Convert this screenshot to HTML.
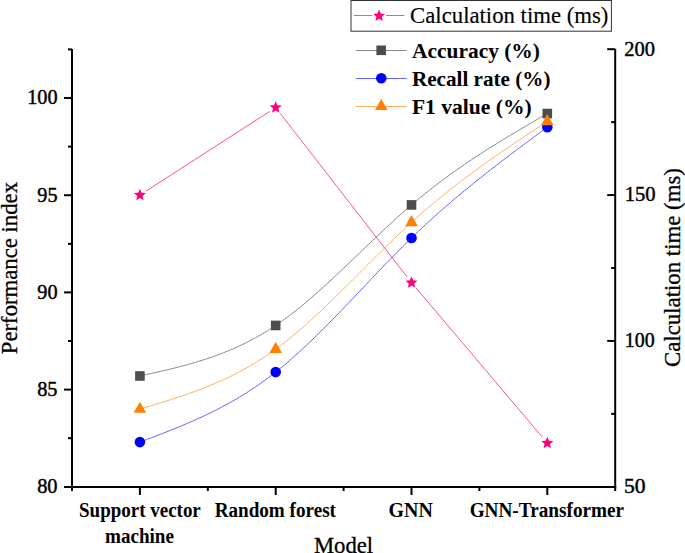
<!DOCTYPE html>
<html><head><meta charset="utf-8"><style>
html,body{margin:0;padding:0;background:#fff;overflow:hidden;}
svg{display:block;}
</style></head><body>
<svg width="685" height="553" viewBox="0 0 685 553">
<rect width="685" height="553" fill="#fff"/>
<g stroke="#000" stroke-width="2" fill="none">
<line x1="72.0" y1="49.0" x2="72.0" y2="491"/>
<line x1="615.2" y1="49.0" x2="615.2" y2="491"/>
<line x1="64" y1="487" x2="616.2" y2="487"/>
<line x1="64" y1="487.00" x2="72.0" y2="487.00"/>
<line x1="64" y1="389.60" x2="72.0" y2="389.60"/>
<line x1="64" y1="292.40" x2="72.0" y2="292.40"/>
<line x1="64" y1="195.20" x2="72.0" y2="195.20"/>
<line x1="64" y1="98.00" x2="72.0" y2="98.00"/>
<line x1="68" y1="438.20" x2="72.0" y2="438.20"/>
<line x1="68" y1="341.00" x2="72.0" y2="341.00"/>
<line x1="68" y1="243.80" x2="72.0" y2="243.80"/>
<line x1="68" y1="146.60" x2="72.0" y2="146.60"/>
<line x1="68" y1="49.40" x2="72.0" y2="49.40"/>
<line x1="607.2" y1="487.00" x2="615.2" y2="487.00"/>
<line x1="607.2" y1="340.93" x2="615.2" y2="340.93"/>
<line x1="607.2" y1="195.07" x2="615.2" y2="195.07"/>
<line x1="607.2" y1="49.20" x2="615.2" y2="49.20"/>
<line x1="611.2" y1="413.87" x2="615.2" y2="413.87"/>
<line x1="611.2" y1="268.00" x2="615.2" y2="268.00"/>
<line x1="611.2" y1="122.13" x2="615.2" y2="122.13"/>
<line x1="139.90" y1="487" x2="139.90" y2="495"/>
<line x1="275.70" y1="487" x2="275.70" y2="495"/>
<line x1="411.50" y1="487" x2="411.50" y2="495"/>
<line x1="547.30" y1="487" x2="547.30" y2="495"/>
<line x1="207.80" y1="487" x2="207.80" y2="491"/>
<line x1="343.60" y1="487" x2="343.60" y2="491"/>
<line x1="479.40" y1="487" x2="479.40" y2="491"/>
</g>
<path d="M139.90,375.99 L142.16,375.49 L144.43,374.99 L146.69,374.49 L148.95,373.99 L151.22,373.49 L153.48,372.98 L155.74,372.47 L158.01,371.95 L160.27,371.43 L162.53,370.91 L164.80,370.38 L167.06,369.84 L169.32,369.30 L171.59,368.74 L173.85,368.19 L176.11,367.62 L178.38,367.04 L180.64,366.45 L182.90,365.86 L185.17,365.25 L187.43,364.63 L189.69,364.00 L191.96,363.36 L194.22,362.70 L196.48,362.03 L198.75,361.34 L201.01,360.64 L203.27,359.93 L205.54,359.20 L207.80,358.45 L210.06,357.68 L212.33,356.90 L214.59,356.10 L216.85,355.28 L219.12,354.44 L221.38,353.58 L223.64,352.70 L225.91,351.80 L228.17,350.87 L230.43,349.93 L232.70,348.96 L234.96,347.97 L237.22,346.95 L239.49,345.91 L241.75,344.85 L244.01,343.75 L246.28,342.64 L248.54,341.49 L250.80,340.32 L253.07,339.12 L255.33,337.89 L257.59,336.63 L259.86,335.34 L262.12,334.03 L264.38,332.68 L266.65,331.30 L268.91,329.88 L271.17,328.44 L273.44,326.96 L275.70,325.45 L277.96,323.90 L280.23,322.32 L282.49,320.71 L284.75,319.07 L287.02,317.39 L289.28,315.69 L291.54,313.95 L293.81,312.19 L296.07,310.41 L298.33,308.59 L300.60,306.75 L302.86,304.89 L305.12,303.00 L307.39,301.09 L309.65,299.16 L311.91,297.21 L314.18,295.24 L316.44,293.25 L318.70,291.24 L320.97,289.22 L323.23,287.18 L325.49,285.12 L327.76,283.05 L330.02,280.97 L332.28,278.87 L334.55,276.77 L336.81,274.65 L339.07,272.52 L341.34,270.39 L343.60,268.25 L345.86,266.10 L348.13,263.94 L350.39,261.78 L352.65,259.62 L354.92,257.45 L357.18,255.28 L359.44,253.11 L361.71,250.93 L363.97,248.76 L366.23,246.59 L368.50,244.43 L370.76,242.26 L373.02,240.10 L375.29,237.95 L377.55,235.80 L379.81,233.66 L382.08,231.52 L384.34,229.40 L386.60,227.28 L388.87,225.18 L391.13,223.09 L393.39,221.01 L395.66,218.94 L397.92,216.89 L400.18,214.85 L402.45,212.83 L404.71,210.82 L406.97,208.84 L409.24,206.87 L411.50,204.92 L413.80,202.96 L416.10,201.02 L418.41,199.10 L420.71,197.21 L423.01,195.33 L425.31,193.47 L427.61,191.63 L429.91,189.81 L432.22,188.01 L434.52,186.23 L436.82,184.46 L439.12,182.72 L441.42,180.98 L443.72,179.27 L446.03,177.57 L448.33,175.89 L450.63,174.23 L452.93,172.57 L455.23,170.94 L457.53,169.32 L459.84,167.71 L462.14,166.12 L464.44,164.54 L466.74,162.97 L469.04,161.42 L471.34,159.87 L473.65,158.34 L475.95,156.83 L478.25,155.32 L480.55,153.82 L482.85,152.34 L485.15,150.86 L487.46,149.40 L489.76,147.94 L492.06,146.50 L494.36,145.06 L496.66,143.63 L498.96,142.21 L501.27,140.79 L503.57,139.38 L505.87,137.98 L508.17,136.59 L510.47,135.20 L512.77,133.82 L515.08,132.45 L517.38,131.08 L519.68,129.71 L521.98,128.35 L524.28,126.99 L526.58,125.64 L528.89,124.28 L531.19,122.94 L533.49,121.59 L535.79,120.25 L538.09,118.91 L540.39,117.57 L542.70,116.23 L545.00,114.89 L547.30,113.55" stroke="#888888" stroke-width="1" fill="none"/>
<path d="M139.90,442.09 L142.16,441.23 L144.43,440.38 L146.69,439.52 L148.95,438.66 L151.22,437.80 L153.48,436.94 L155.74,436.07 L158.01,435.20 L160.27,434.33 L162.53,433.45 L164.80,432.56 L167.06,431.67 L169.32,430.78 L171.59,429.88 L173.85,428.97 L176.11,428.05 L178.38,427.12 L180.64,426.19 L182.90,425.24 L185.17,424.29 L187.43,423.33 L189.69,422.35 L191.96,421.36 L194.22,420.36 L196.48,419.35 L198.75,418.33 L201.01,417.29 L203.27,416.24 L205.54,415.18 L207.80,414.09 L210.06,413.00 L212.33,411.89 L214.59,410.76 L216.85,409.61 L219.12,408.45 L221.38,407.26 L223.64,406.06 L225.91,404.84 L228.17,403.60 L230.43,402.34 L232.70,401.06 L234.96,399.76 L237.22,398.44 L239.49,397.09 L241.75,395.72 L244.01,394.33 L246.28,392.92 L248.54,391.48 L250.80,390.01 L253.07,388.52 L255.33,387.00 L257.59,385.46 L259.86,383.89 L262.12,382.29 L264.38,380.67 L266.65,379.01 L268.91,377.33 L271.17,375.62 L273.44,373.88 L275.70,372.10 L277.96,370.30 L280.23,368.47 L282.49,366.60 L284.75,364.71 L287.02,362.79 L289.28,360.84 L291.54,358.87 L293.81,356.87 L296.07,354.85 L298.33,352.80 L300.60,350.73 L302.86,348.64 L305.12,346.52 L307.39,344.39 L309.65,342.23 L311.91,340.06 L314.18,337.87 L316.44,335.66 L318.70,333.43 L320.97,331.19 L323.23,328.94 L325.49,326.67 L327.76,324.38 L330.02,322.09 L332.28,319.78 L334.55,317.46 L336.81,315.13 L339.07,312.80 L341.34,310.45 L343.60,308.10 L345.86,305.74 L348.13,303.37 L350.39,301.00 L352.65,298.62 L354.92,296.24 L357.18,293.86 L359.44,291.48 L361.71,289.09 L363.97,286.71 L366.23,284.32 L368.50,281.94 L370.76,279.56 L373.02,277.18 L375.29,274.80 L377.55,272.43 L379.81,270.07 L382.08,267.71 L384.34,265.36 L386.60,263.01 L388.87,260.68 L391.13,258.35 L393.39,256.03 L395.66,253.73 L397.92,251.43 L400.18,249.15 L402.45,246.89 L404.71,244.63 L406.97,242.40 L409.24,240.17 L411.50,237.97 L413.80,235.74 L416.10,233.54 L418.41,231.35 L420.71,229.17 L423.01,227.02 L425.31,224.88 L427.61,222.76 L429.91,220.65 L432.22,218.56 L434.52,216.48 L436.82,214.42 L439.12,212.38 L441.42,210.34 L443.72,208.33 L446.03,206.32 L448.33,204.33 L450.63,202.35 L452.93,200.39 L455.23,198.44 L457.53,196.50 L459.84,194.57 L462.14,192.66 L464.44,190.75 L466.74,188.86 L469.04,186.97 L471.34,185.10 L473.65,183.24 L475.95,181.39 L478.25,179.55 L480.55,177.71 L482.85,175.89 L485.15,174.07 L487.46,172.26 L489.76,170.46 L492.06,168.67 L494.36,166.89 L496.66,165.11 L498.96,163.34 L501.27,161.57 L503.57,159.81 L505.87,158.06 L508.17,156.31 L510.47,154.57 L512.77,152.84 L515.08,151.10 L517.38,149.37 L519.68,147.65 L521.98,145.93 L524.28,144.21 L526.58,142.50 L528.89,140.79 L531.19,139.08 L533.49,137.37 L535.79,135.67 L538.09,133.96 L540.39,132.26 L542.70,130.56 L545.00,128.86 L547.30,127.16" stroke="#6464ff" stroke-width="1" fill="none"/>
<path d="M139.90,409.04 L142.16,408.37 L144.43,407.69 L146.69,407.02 L148.95,406.35 L151.22,405.67 L153.48,404.99 L155.74,404.30 L158.01,403.62 L160.27,402.92 L162.53,402.23 L164.80,401.53 L167.06,400.82 L169.32,400.10 L171.59,399.38 L173.85,398.65 L176.11,397.91 L178.38,397.17 L180.64,396.41 L182.90,395.65 L185.17,394.87 L187.43,394.09 L189.69,393.29 L191.96,392.48 L194.22,391.66 L196.48,390.82 L198.75,389.97 L201.01,389.11 L203.27,388.23 L205.54,387.34 L207.80,386.43 L210.06,385.51 L212.33,384.57 L214.59,383.61 L216.85,382.63 L219.12,381.63 L221.38,380.62 L223.64,379.59 L225.91,378.53 L228.17,377.46 L230.43,376.36 L232.70,375.24 L234.96,374.10 L237.22,372.94 L239.49,371.76 L241.75,370.55 L244.01,369.31 L246.28,368.05 L248.54,366.77 L250.80,365.46 L253.07,364.12 L255.33,362.76 L257.59,361.36 L259.86,359.94 L262.12,358.49 L264.38,357.02 L266.65,355.51 L268.91,353.97 L271.17,352.40 L273.44,350.80 L275.70,349.16 L277.96,347.50 L280.23,345.80 L282.49,344.07 L284.75,342.32 L287.02,340.53 L289.28,338.71 L291.54,336.87 L293.81,335.00 L296.07,333.11 L298.33,331.19 L300.60,329.24 L302.86,327.27 L305.12,325.28 L307.39,323.27 L309.65,321.24 L311.91,319.19 L314.18,317.12 L316.44,315.03 L318.70,312.93 L320.97,310.81 L323.23,308.67 L325.49,306.52 L327.76,304.35 L330.02,302.17 L332.28,299.98 L334.55,297.78 L336.81,295.57 L339.07,293.35 L341.34,291.12 L343.60,288.88 L345.86,286.64 L348.13,284.39 L350.39,282.13 L352.65,279.87 L354.92,277.61 L357.18,275.34 L359.44,273.08 L361.71,270.81 L363.97,268.54 L366.23,266.27 L368.50,264.00 L370.76,261.74 L373.02,259.48 L375.29,257.23 L377.55,254.98 L379.81,252.73 L382.08,250.49 L384.34,248.26 L386.60,246.04 L388.87,243.83 L391.13,241.63 L393.39,239.44 L395.66,237.26 L397.92,235.09 L400.18,232.94 L402.45,230.80 L404.71,228.68 L406.97,226.58 L409.24,224.49 L411.50,222.42 L413.80,220.33 L416.10,218.26 L418.41,216.21 L420.71,214.18 L423.01,212.17 L425.31,210.18 L427.61,208.20 L429.91,206.24 L432.22,204.30 L434.52,202.37 L436.82,200.46 L439.12,198.57 L441.42,196.69 L443.72,194.82 L446.03,192.98 L448.33,191.14 L450.63,189.32 L452.93,187.51 L455.23,185.72 L457.53,183.94 L459.84,182.18 L462.14,180.42 L464.44,178.68 L466.74,176.95 L469.04,175.23 L471.34,173.53 L473.65,171.83 L475.95,170.14 L478.25,168.47 L480.55,166.80 L482.85,165.15 L485.15,163.50 L487.46,161.86 L489.76,160.23 L492.06,158.61 L494.36,157.00 L496.66,155.39 L498.96,153.80 L501.27,152.20 L503.57,150.62 L505.87,149.04 L508.17,147.47 L510.47,145.90 L512.77,144.34 L515.08,142.78 L517.38,141.23 L519.68,139.68 L521.98,138.14 L524.28,136.60 L526.58,135.06 L528.89,133.53 L531.19,132.00 L533.49,130.47 L535.79,128.94 L538.09,127.42 L540.39,125.89 L542.70,124.37 L545.00,122.85 L547.30,121.33" stroke="#ffb066" stroke-width="1" fill="none"/>
<line x1="145.95" y1="191.17" x2="269.65" y2="111.45" stroke="#ff4fa3" stroke-width="1"/>
<line x1="280.11" y1="113.24" x2="407.09" y2="276.90" stroke="#ff4fa3" stroke-width="1"/>
<line x1="416.15" y1="288.08" x2="542.65" y2="437.54" stroke="#ff4fa3" stroke-width="1"/>
<rect x="135.10" y="371.19" width="9.6" height="9.6" fill="#4d4d4d"/>
<rect x="270.90" y="320.65" width="9.6" height="9.6" fill="#4d4d4d"/>
<rect x="406.70" y="200.12" width="9.6" height="9.6" fill="#4d4d4d"/>
<rect x="542.50" y="108.75" width="9.6" height="9.6" fill="#4d4d4d"/>
<circle cx="139.90" cy="442.09" r="5.3" fill="#0000ff"/>
<circle cx="275.70" cy="372.10" r="5.3" fill="#0000ff"/>
<circle cx="411.50" cy="237.97" r="5.3" fill="#0000ff"/>
<circle cx="547.30" cy="127.16" r="5.3" fill="#0000ff"/>
<path d="M139.90,401.74 L146.20,412.84 L133.60,412.84Z" fill="#ff8000"/>
<path d="M275.70,341.86 L282.00,352.96 L269.40,352.96Z" fill="#ff8000"/>
<path d="M411.50,215.12 L417.80,226.22 L405.20,226.22Z" fill="#ff8000"/>
<path d="M547.30,114.03 L553.60,125.13 L541.00,125.13Z" fill="#ff8000"/>
<path d="M139.90,188.77 L141.57,192.77 L145.89,193.12 L142.60,195.94 L143.60,200.16 L139.90,197.90 L136.20,200.16 L137.20,195.94 L133.91,193.12 L138.23,192.77Z" fill="#ff0080"/>
<path d="M275.70,101.25 L277.37,105.25 L281.69,105.60 L278.40,108.42 L279.40,112.64 L275.70,110.38 L272.00,112.64 L273.00,108.42 L269.71,105.60 L274.03,105.25Z" fill="#ff0080"/>
<path d="M411.50,276.29 L413.17,280.29 L417.49,280.64 L414.20,283.46 L415.20,287.68 L411.50,285.42 L407.80,287.68 L408.80,283.46 L405.51,280.64 L409.83,280.29Z" fill="#ff0080"/>
<path d="M547.30,436.74 L548.97,440.75 L553.29,441.09 L550.00,443.92 L551.00,448.14 L547.30,445.88 L543.60,448.14 L544.60,443.92 L541.31,441.09 L545.63,440.75Z" fill="#ff0080"/>
<g font-family="Liberation Serif" fill="#000">
<text x="37.16" y="493.10" font-size="20.6" font-weight="normal" textLength="20.38" lengthAdjust="spacingAndGlyphs" stroke="#000" stroke-width="0.45">80</text>
<text x="37.16" y="395.90" font-size="20.6" font-weight="normal" textLength="20.38" lengthAdjust="spacingAndGlyphs" stroke="#000" stroke-width="0.45">85</text>
<text x="37.29" y="298.70" font-size="20.6" font-weight="normal" textLength="20.24" lengthAdjust="spacingAndGlyphs" stroke="#000" stroke-width="0.45">90</text>
<text x="37.29" y="201.50" font-size="20.6" font-weight="normal" textLength="20.24" lengthAdjust="spacingAndGlyphs" stroke="#000" stroke-width="0.45">95</text>
<text x="27.15" y="104.30" font-size="20.6" font-weight="normal" textLength="30.38" lengthAdjust="spacingAndGlyphs" stroke="#000" stroke-width="0.45">100</text>
<text x="624.01" y="493.20" font-size="20.6" font-weight="normal" textLength="21.57" lengthAdjust="spacingAndGlyphs" stroke="#000" stroke-width="0.45">50</text>
<text x="624.78" y="347.33" font-size="20.6" font-weight="normal" textLength="29.84" lengthAdjust="spacingAndGlyphs" stroke="#000" stroke-width="0.45">100</text>
<text x="624.73" y="201.47" font-size="20.6" font-weight="normal" textLength="30.82" lengthAdjust="spacingAndGlyphs" stroke="#000" stroke-width="0.45">150</text>
<text x="624.33" y="55.60" font-size="20.6" font-weight="normal" textLength="30.71" lengthAdjust="spacingAndGlyphs" stroke="#000" stroke-width="0.45">200</text>
<text x="79.03" y="517.20" font-size="20.2" font-weight="bold" textLength="121.79" lengthAdjust="spacingAndGlyphs">Support vector</text>
<text x="105.02" y="542.60" font-size="20.2" font-weight="bold" textLength="68.92" lengthAdjust="spacingAndGlyphs">machine</text>
<text x="214.64" y="517.30" font-size="20.2" font-weight="bold" textLength="121.35" lengthAdjust="spacingAndGlyphs">Random forest</text>
<text x="388.60" y="517.40" font-size="20.2" font-weight="bold" textLength="44.31" lengthAdjust="spacingAndGlyphs">GNN</text>
<text x="469.64" y="517.40" font-size="20.2" font-weight="bold" textLength="154.49" lengthAdjust="spacingAndGlyphs">GNN-Transformer</text>
<text x="313.94" y="553.00" font-size="23" font-weight="normal" textLength="59.24" lengthAdjust="spacingAndGlyphs" stroke="#000" stroke-width="0.3">Model</text>
<text transform="translate(16.5,0) rotate(-90)" x="-354.16" y="0" font-size="23" textLength="172.17" lengthAdjust="spacingAndGlyphs" stroke="#000" stroke-width="0.3">Performance index</text>
<text transform="translate(680.4,0) rotate(-90)" x="-366.95" y="0" font-size="23" textLength="198.83" lengthAdjust="spacingAndGlyphs" stroke="#000" stroke-width="0.3">Calculation time (ms)</text>
</g>
<rect x="351" y="0.5" width="260.4" height="30.7" fill="#fff" stroke="#333" stroke-width="1"/>
<line x1="353.8" y1="15.5" x2="372.2" y2="15.5" stroke="#ff4fa3" stroke-width="1"/>
<line x1="386.0" y1="15.5" x2="404.3" y2="15.5" stroke="#ff4fa3" stroke-width="1"/>
<path d="M379.10,9.60 L380.77,13.61 L385.09,13.95 L381.80,16.78 L382.80,21.00 L379.10,18.73 L375.40,21.00 L376.40,16.78 L373.11,13.95 L377.43,13.61Z" fill="#ff0080"/>
<g font-family="Liberation Serif" fill="#000">
<text x="410.08" y="23.30" font-size="23" font-weight="normal" textLength="198.37" lengthAdjust="spacingAndGlyphs" stroke="#000" stroke-width="0.15">Calculation time (ms)</text>
</g>
<line x1="355.9" y1="50.5" x2="406.7" y2="50.5" stroke="#888888" stroke-width="1"/>
<rect x="376.40" y="45.50" width="9.6" height="9.6" fill="#4d4d4d"/>
<line x1="355.9" y1="78.5" x2="406.7" y2="78.5" stroke="#6464ff" stroke-width="1"/>
<circle cx="381.30" cy="78.20" r="5.3" fill="#0000ff"/>
<line x1="355.9" y1="106.5" x2="406.7" y2="106.5" stroke="#ffb066" stroke-width="1"/>
<path d="M381.30,99.00 L387.60,110.10 L375.00,110.10Z" fill="#ff8000"/>
<g font-family="Liberation Serif" fill="#000">
<text x="412.03" y="57.80" font-size="22.0" font-weight="bold" textLength="127.93" lengthAdjust="spacingAndGlyphs">Accuracy (%)</text>
<text x="411.90" y="85.50" font-size="22.0" font-weight="bold" textLength="138.67" lengthAdjust="spacingAndGlyphs">Recall rate (%)</text>
<text x="411.90" y="113.50" font-size="22.0" font-weight="bold" textLength="119.81" lengthAdjust="spacingAndGlyphs">F1 value (%)</text>
</g>
</svg>
</body></html>
